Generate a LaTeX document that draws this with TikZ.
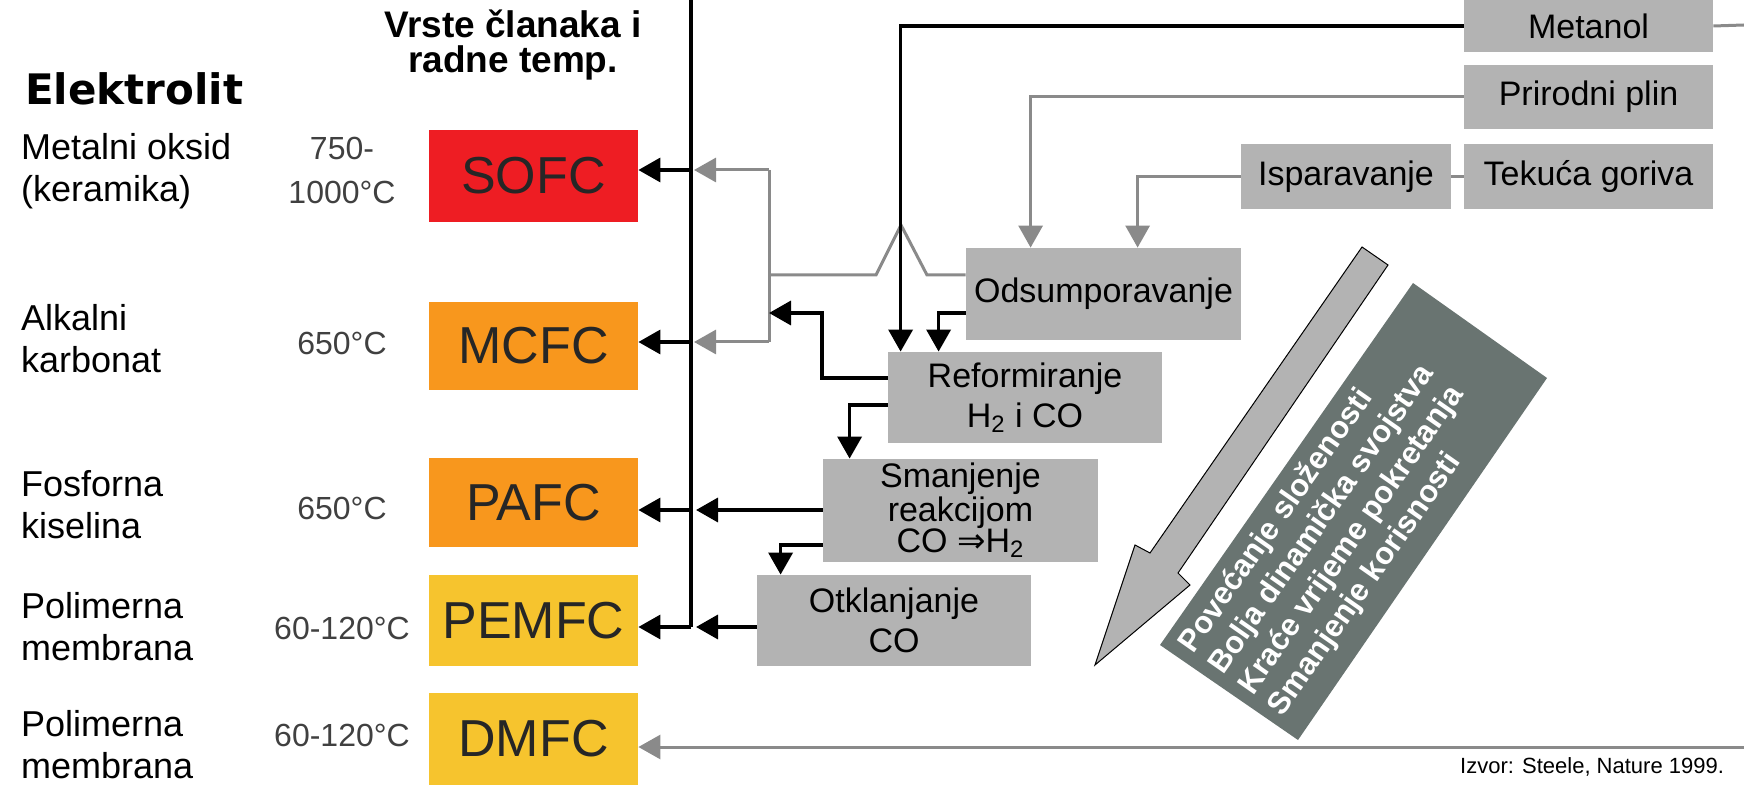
\documentclass[tikz,border=0pt]{standalone}
\usepackage{fontspec}
\setmainfont{Liberation Sans}
\newfontfamily\dvsfont{DejaVu Sans}
\usetikzlibrary{arrows.meta}

\definecolor{fcred}{HTML}{EE1D23}
\definecolor{fcorange}{HTML}{F8971D}
\definecolor{fcyellow}{HTML}{F6C42E}
\definecolor{procgray}{HTML}{B3B3B3}
\definecolor{linegray}{HTML}{8A8A8A}
\definecolor{slate}{HTML}{697471}

\begin{document}
\begin{tikzpicture}[x=0.5pt, y=-0.5pt,
    cell/.style={inner sep=0pt, minimum width=104.5pt, text=black!85, font=\fontsize{26}{26}\selectfont},
    proc/.style={fill=procgray, inner sep=0pt, align=center, font=\fontsize{17}{20}\selectfont},
    temp/.style={align=center, text=black!75, font=\fontsize{16}{22}\selectfont},
    elabel/.style={anchor=west, align=left, font=\fontsize{18}{21}\selectfont},
    blk/.style={line width=1.75pt, -{Triangle[length=11pt,width=12pt]}},
    gry/.style={line width=1.5pt, linegray, -{Triangle[length=11pt,width=12pt]}},
    gline/.style={line width=1.5pt, linegray}]
    \useasboundingbox (0,0) rectangle (1744,785);

    \node[align=center, font=\bfseries\fontsize{18.5}{17.5}\selectfont] (head) at (513,45) {Vrste članaka i\\radne temp.};
    \node[anchor=west, font=\dvsfont\bfseries\fontsize{21}{21}\selectfont] (elektrolit) at (18,89) {Elektrolit};

    \node[cell, fill=fcred, minimum height=46pt] (sofc) at (533.5,176) {SOFC};
    \node[cell, fill=fcorange, minimum height=44pt] (mcfc) at (533.5,346) {MCFC};
    \node[cell, fill=fcorange, minimum height=44.5pt] (pafc) at (533.5,502.5) {PAFC};
    \node[cell, fill=fcyellow, minimum height=45.5pt] (pemfc) at (533.5,620.5) {PEMFC};
    \node[cell, fill=fcyellow, minimum height=46pt] (dmfc) at (533.5,739) {DMFC};

    \node[temp] (tsofc) at (342,170) {750-\\1000°C};
    \node[temp] (tmcfc) at (342,343) {650°C};
    \node[temp] (tpafc) at (342,508) {650°C};
    \node[temp] (tpemfc) at (342,628) {60-120°C};
    \node[temp] (tdmfc) at (342,735) {60-120°C};

    \node[elabel] (esofc) at (14,171) {Metalni oksid\\(keramika)};
    \node[elabel] (emcfc) at (14,339) {Alkalni\\karbonat};
    \node[elabel] (epafc) at (14,505) {Fosforna\\kiselina};
    \node[elabel] (epemfc) at (14,627) {Polimerna\\membrana};
    \node[elabel] (edmfc) at (14,745) {Polimerna\\membrana};

    \node[proc, minimum width=124.5pt, minimum height=26pt] (metanol) at (1588.5,26) {Metanol};
    \node[proc, minimum width=124.5pt, minimum height=32pt] (plin) at (1588.5,97) {Prirodni plin};
    \node[proc, minimum width=124.5pt, minimum height=32.5pt] (tekuca) at (1588.5,176.5) {Tekuća goriva};
    \node[proc, minimum width=105pt, minimum height=32.5pt] (ispar) at (1346,176.5) {Isparavanje};
    \node[proc, minimum width=137.5pt, minimum height=46pt] (odsum) at (1103.5,294) {Odsumporavanje};
    \node[proc, minimum width=137pt, minimum height=45.5pt] (reform) at (1025,397.5) {Reformiranje\\H\textsubscript{2} i CO};
    \node[proc, minimum width=137.5pt, minimum height=51.5pt, font=\fontsize{17}{15.5}\selectfont] (smanj) at (960.5,510.5) {Smanjenje\\reakcijom\\CO {\dvsfont⇒}H\textsubscript{2}};
    \node[proc, minimum width=137pt, minimum height=45.5pt] (otkl) at (894,620.5) {Otklanjanje\\CO};

    \coordinate (bustop) at (691,0);
    \coordinate (jsofc) at (691,170);
    \coordinate (jmcfc) at (691,342);
    \coordinate (jpafc) at (691,510);
    \coordinate (jpemfc) at (691,627);
    \coordinate (gtop) at (769,170);
    \coordinate (gbot) at (769,342);
    \coordinate (gmid) at (769,275);
    \coordinate (gin) at (769,313);
    \coordinate (metout) at (1744,25);
    \coordinate (dmfcin) at (1744,747);

    \draw[line width=1.75pt] (bustop) -- (jpemfc);
    \foreach \j/\c in {jsofc/sofc, jmcfc/mcfc, jpafc/pafc, jpemfc/pemfc}
        \draw[blk] (\j) -- (\c.east |- \j);

    \draw[gline] (gtop) -- (gbot);
    \draw[gry, shorten >=1.5pt] (gtop) -- (jsofc);
    \draw[gry, shorten >=1.5pt] (gbot) -- (jmcfc);
    \draw[gline] (odsum.west |- gmid) -- (927,275) -- (901,225) -- (876,275) -- (gmid);

    \draw[blk] (metanol.west) -| ([xshift=6.5pt]reform.north west);
    \draw[gline] (metanol.east) -- (metout);
    \draw[gry] (plin.west) -| ([xshift=32.5pt]odsum.north west);
    \draw[gline] (tekuca.west) -- (ispar.east);
    \draw[gry] (ispar.west) -| ([xshift=86pt]odsum.north west);
    \draw[blk] ([yshift=-9.5pt]odsum.west) -| ([xshift=25.5pt]reform.north west);
    \draw[blk] ([yshift=9.75pt]reform.west) -| (822,313) -- (gin);
    \draw[blk] ([yshift=-3.75pt]reform.west) -| ([xshift=13.5pt]smanj.north west);
    \draw[blk, shorten >=2.5pt] (smanj.west |- jpafc) -- (jpafc);
    \draw[blk] ([yshift=-17.25pt]smanj.west) -| ([xshift=12pt]otkl.north west);
    \draw[blk, shorten >=2.5pt] (otkl.west |- jpemfc) -- (jpemfc);
    \draw[gry] (dmfcin) -- (dmfc.east |- dmfcin);

    \filldraw[fill=procgray, draw=black, line width=0.5pt] (1362,247) -- (1388,265) -- (1178,573) -- (1190,585) -- (1095,665) -- (1135,545) -- (1150,553) -- cycle;
    \fill[slate] (1413,283) -- (1547,378) -- (1298,740) -- (1160,645) -- cycle;
    \node[rotate=55, align=left, text=white, font=\bfseries\fontsize{15.5}{18.2}\selectfont] (trend) at (1337,530) {Povećanje složenosti\\Bolja dinamička svojstva\\Kraće vrijeme pokretanja\\Smanjenje korisnosti};

    \node[anchor=east, font=\fontsize{11}{11}\selectfont] (izvor) at (1731,767) {Izvor: Steele, Nature 1999.};
\end{tikzpicture}
\end{document}
